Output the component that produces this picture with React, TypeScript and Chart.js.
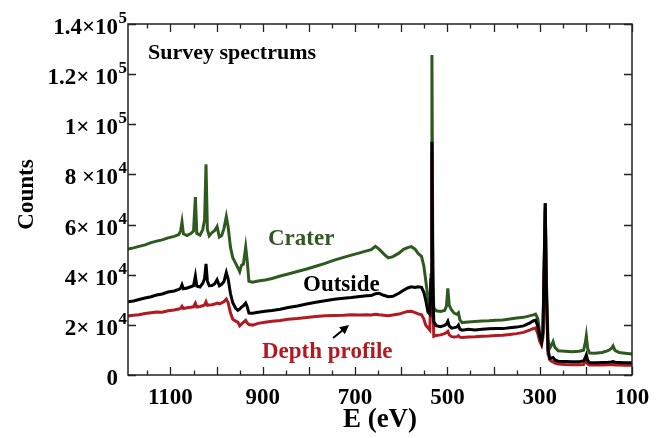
import React, { useEffect, useRef } from "react";
import { Chart, registerables } from "chart.js";

Chart.register(...registerables);

// ---------- DATA ----------
const energy = [
  1192, 1180, 1168, 1155, 1142, 1130, 1118, 1105, 1092, 1082, 1078, 1075, 1072, 1064, 1056, 1050,
  1046, 1043, 1036, 1030, 1026, 1023, 1020, 1016, 1010, 1004, 999, 994, 989, 984, 979, 975, 970,
  965, 959, 954, 950, 946, 942, 937, 934, 930, 922, 910, 895, 880, 862, 845, 825, 805, 785, 765,
  745, 725, 708, 690, 675, 665, 656, 648, 638, 628, 618, 605, 595, 586, 578, 570, 563, 556, 551,
  547, 542, 538, 535.5, 533.5, 531.5, 529.5, 524, 515, 506, 502, 499, 496, 491, 485, 479, 476,
  473, 468, 455, 440, 425, 410, 395, 380, 365, 350, 335, 322, 314, 309, 304, 300, 296, 293, 290.5,
  288, 285.5, 282, 278, 274, 271, 267, 260, 245, 230, 215, 205, 201, 199, 196, 192, 180, 165, 152,
  145, 141, 137, 128, 115, 100,
];

const crater = [
  50200, 50700, 51300, 51900, 52800, 53400, 53900, 54700, 55300, 56000, 57500, 61000, 56300, 55600, 56400, 57400,
  71000, 56500, 55800, 58000, 62000, 84000, 58000, 55500, 56800, 57600, 59200, 55000, 55600, 58500, 63200, 59000, 51000,
  46800, 44600, 42800, 41200, 43800, 44200, 51000, 46000, 37400, 37000, 37500, 37900, 38500, 39500, 40300, 41300, 42300, 43400, 44500,
  45800, 46900, 47800, 48700, 49500, 50000, 51300, 50200, 48300, 46700, 47200, 48600, 50100, 50800, 51200, 50200, 48400, 47300, 43500,
  37900, 30500, 27300, 40000, 127600, 42000, 26700, 25600, 25300, 25700, 27500, 34600, 27800, 26000, 24600, 24200, 24800,
  22000, 20900, 21100, 21300, 21500, 21600, 21800, 21900, 22300, 22700, 23000, 23600, 24000, 24300, 22500, 17000, 13300, 16500, 42000,
  68600, 38000, 14000, 10700, 12000, 13300, 11000, 9700, 9500, 9300, 9500, 9900, 13000, 15600, 10500, 8800, 8700, 9000, 9700,
  10500, 11600, 9800, 9000, 8700, 8400,
];

const outside = [
  29200, 29500, 30100, 30700, 31200, 31900, 32300, 33100, 33500, 34100, 34600, 36000, 34400, 34700, 35200, 35600,
  39500, 35500, 35100, 36600, 38500, 44300, 37500, 35600, 35700, 36400, 38000, 35600, 36200, 37300, 40900, 38300, 32500,
  28800, 26700, 25800, 26300, 27100, 27600, 28700, 27400, 24700, 24600, 25000, 25400, 25700, 26200, 26900, 27500, 28300, 29000, 29600,
  30200, 30600, 30900, 31300, 31600, 31700, 32400, 32600, 31800, 31200, 31400, 32600, 33800, 34700, 35200, 34900, 35200, 35000, 33000,
  29900, 25000, 24300, 38000, 93000, 36000, 21300, 19700, 19300, 19800, 20300, 21400, 19600, 18700, 18900, 19200, 19900,
  18300, 17900, 18200, 18000, 18200, 18400, 18500, 18500, 18800, 19100, 19600, 20700, 21600, 21900, 19500, 15500, 13100, 17000, 42000,
  68500, 34000, 10000, 6600, 6800, 7000, 6000, 5500, 5400, 5300, 5300, 5600, 7000, 8000, 5800, 5000, 4900, 5000, 5100,
  5200, 5400, 5100, 5000, 4900, 4900,
];

const depthProfile = [
  23500, 23800, 24000, 24500, 24800, 25100, 25000, 25600, 25900, 26300, 26600, 27400, 26500, 26800, 27000, 27200,
  28600, 27100, 27300, 27600, 28000, 29200, 27800, 27900, 28000, 28300, 28700, 28400, 28800, 29300, 30300, 28800, 24800,
  22200, 21500, 21100, 19600, 20300, 21000, 21800, 20800, 20100, 19900, 20600, 21000, 21400, 21700, 22200, 22500, 22900, 23300, 23600,
  23700, 23800, 24000, 23900, 24000, 23900, 24200, 24000, 23800, 23600, 23900, 24300, 24900, 25300, 25400, 24900, 24400, 24000, 22300,
  19900, 18800, 17900, 36000, 89000, 30000, 15400, 15800, 16000, 16500, 16900, 17400, 16000, 15300, 15200, 15300, 15700,
  15100, 15000, 15200, 15300, 15500, 15600, 15800, 15900, 16200, 16500, 17000, 17900, 18500, 18800, 16500, 13500, 12000, 15000, 38000,
  66000, 30000, 8500, 6000, 5400, 5200, 4700, 4400, 4200, 4100, 4100, 4200, 5200, 5800, 4500, 4000, 4000, 4000, 4100,
  4100, 4200, 4000, 4000, 3900, 3900,
];

const seriesNames = ["Outside", "Depth profile", "Crater"];
const seriesColors = ["#000000", "#b01a20", "#2e5a1f"];

const xMin = 100;
const xMax = 1192;
const yMin = 0;
const yMax = 140000;

const xLabelValues = [1100, 900, 700, 500, 300, 100];
const xLabelTexts = ["1100", "900", "700", "500", "300", "100"];
const xMajorTicks = [100, 200, 300, 400, 500, 600, 700, 800, 900, 1000, 1100];
const xMinorTicks = [150, 250, 350, 450, 550, 650, 750, 850, 950, 1050, 1150];

const yTickValues = [0, 20000, 40000, 60000, 80000, 100000, 120000, 140000];
const yTickMantissa = ["0", "2× 10", "4× 10", "6× 10", "8 ×10", "1× 10", "1.2× 10", "1.4×10"];
const yTickExponent = ["", "4", "4", "4", "4", "5", "5", "5"];

const xTitle = "E (eV)";
const yTitle = "Counts";
const panelTitle = "Survey spectrums";

// ---------- DRAWING ----------
const FONT = '"Liberation Serif", "Times New Roman", serif';

const framePlugin = {
  id: "framePlugin",
  afterDraw(chart: any) {
    const { ctx, chartArea: a, scales } = chart;
    const xs = scales.x;
    const ys = scales.y;
    ctx.save();

    // frame
    ctx.strokeStyle = "#222";
    ctx.lineWidth = 1.5;
    ctx.strokeRect(a.left, a.top, a.right - a.left, a.bottom - a.top);

    // ticks (inward, mirrored)
    ctx.beginPath();
    for (const v of xMajorTicks) {
      const px = Math.round(xs.getPixelForValue(v)) + 0.5;
      ctx.moveTo(px, a.bottom); ctx.lineTo(px, a.bottom - 8);
      ctx.moveTo(px, a.top); ctx.lineTo(px, a.top + 8);
    }
    for (const v of xMinorTicks) {
      if (v > xMax) continue;
      const px = Math.round(xs.getPixelForValue(v)) + 0.5;
      ctx.moveTo(px, a.bottom); ctx.lineTo(px, a.bottom - 4.5);
      ctx.moveTo(px, a.top); ctx.lineTo(px, a.top + 4.5);
    }
    for (const v of yTickValues) {
      const py = Math.round(ys.getPixelForValue(v)) + 0.5;
      ctx.moveTo(a.left, py); ctx.lineTo(a.left + 8, py);
      ctx.moveTo(a.right, py); ctx.lineTo(a.right - 8, py);
    }
    ctx.lineWidth = 1.3;
    ctx.stroke();

    ctx.fillStyle = "#000";
    // x tick labels
    ctx.font = `bold 23px ${FONT}`;
    ctx.textAlign = "center";
    ctx.textBaseline = "alphabetic";
    xLabelValues.forEach((v, i) => {
      ctx.fillText(xLabelTexts[i], xs.getPixelForValue(v), a.bottom + 29);
    });

    // y tick labels with superscript exponent
    yTickValues.forEach((v, i) => {
      const py = ys.getPixelForValue(v);
      const rightEdge = a.left - 10;
      ctx.font = `bold 23px ${FONT}`;
      ctx.textAlign = "right";
      ctx.fillText(yTickMantissa[i], rightEdge, py + 10);
      if (yTickExponent[i]) {
        ctx.font = `bold 17px ${FONT}`;
        ctx.textAlign = "left";
        ctx.fillText(yTickExponent[i], rightEdge + 0.5, py - 1);
      }
    });

    // axis titles
    ctx.font = `bold 27px ${FONT}`;
    ctx.textAlign = "center";
    ctx.fillText(xTitle, (a.left + a.right) / 2 + 0, a.bottom + 52);

    ctx.save();
    ctx.translate(a.left - 103, (a.top + a.bottom) / 2 - 5);
    ctx.rotate(-Math.PI / 2);
    ctx.font = `bold 23px ${FONT}`;
    ctx.textAlign = "center";
    ctx.fillText(yTitle, 0, 8);
    ctx.restore();

    // annotations
    ctx.textAlign = "left";
    ctx.font = `bold 22px ${FONT}`;
    ctx.fillStyle = "#000";
    ctx.fillText(panelTitle, a.left + 20, a.top + 35);

    ctx.font = `bold 23px ${FONT}`;
    ctx.fillStyle = seriesColors[2];
    ctx.fillText(seriesNames[2], 268, 245);
    ctx.fillStyle = seriesColors[0];
    ctx.fillText(seriesNames[0], 303, 291);
    ctx.fillStyle = seriesColors[1];
    ctx.fillText(seriesNames[1], 262, 358);

    // arrow
    const x0 = 333, y0 = 338, x1 = 349, y1 = 325;
    const ang = Math.atan2(y1 - y0, x1 - x0);
    ctx.strokeStyle = "#000";
    ctx.fillStyle = "#000";
    ctx.lineWidth = 2;
    ctx.beginPath();
    ctx.moveTo(x0, y0);
    ctx.lineTo(x1 - 5 * Math.cos(ang), y1 - 5 * Math.sin(ang));
    ctx.stroke();
    ctx.beginPath();
    ctx.moveTo(x1, y1);
    ctx.lineTo(x1 - 9 * Math.cos(ang) + 4.5 * Math.sin(ang), y1 - 9 * Math.sin(ang) - 4.5 * Math.cos(ang));
    ctx.lineTo(x1 - 9 * Math.cos(ang) - 4.5 * Math.sin(ang), y1 - 9 * Math.sin(ang) + 4.5 * Math.cos(ang));
    ctx.closePath();
    ctx.fill();

    ctx.restore();
  },
};

export default function App() {
  const canvasRef = useRef<HTMLCanvasElement | null>(null);

  useEffect(() => {
    const canvas = canvasRef.current;
    if (!canvas) return;
    const allSeries = [outside, depthProfile, crater];
    const chart = new Chart(canvas, {
      type: "line",
      data: {
        datasets: allSeries.map((vals, i) => ({
          label: seriesNames[i],
          data: energy.map((e, j) => ({ x: e, y: vals[j] })),
          borderColor: seriesColors[i],
          backgroundColor: seriesColors[i],
          borderWidth: 3,
          pointRadius: 0,
          tension: 0,
          fill: false,
        })),
      },
      options: {
        responsive: false,
        devicePixelRatio: 1,
        animation: false,
        layout: { padding: { left: 128, right: 30, top: 24, bottom: 63 } },
        plugins: { legend: { display: false }, tooltip: { enabled: false } },
        scales: {
          x: { type: "linear", reverse: true, min: xMin, max: xMax, display: false },
          y: { type: "linear", min: yMin, max: yMax, display: false },
        },
      },
      plugins: [framePlugin],
    });
    return () => chart.destroy();
  }, []);

  return (
    <div style={{ position: "fixed", left: 0, top: 0, width: 662, height: 438, background: "#fff" }}>
      <canvas ref={canvasRef} width={662} height={438} style={{ display: "block" }} />
    </div>
  );
}
